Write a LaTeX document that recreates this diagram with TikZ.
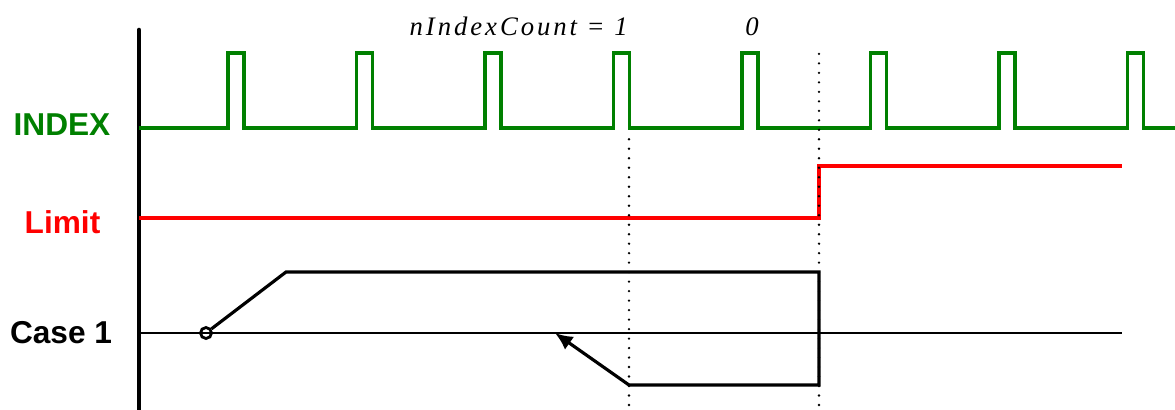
\documentclass[tikz,border=0pt]{standalone}
\usepackage{fontspec}
\setmainfont{Liberation Serif}
\setsansfont{Liberation Sans}
\usetikzlibrary{arrows.meta}

\begin{document}
\begin{tikzpicture}[lab/.style={font=\sffamily\bfseries\fontsize{9}{11}\selectfont, anchor=base, inner sep=0pt},
    marker/.style={dash pattern=on 0pt off 2.7pt, line width=0.75pt, line cap=round}]
    \useasboundingbox (0,0) rectangle (11.75,4.09);
    \draw[line width=1.3pt, line cap=round] (1.39,0) -- (1.39,3.79);
    % index pulses
    \draw[green!50!black, line width=0.9pt] (1.39,2.81)
        \foreach \x in {2.28,3.565,4.85,6.135,7.42,8.705,9.99,11.275} {-- (\x,2.81) -- (\x,3.56) -- (\x+0.16,3.56) -- (\x+0.16,2.81)} -- (11.75,2.81);
    % limit
    \draw[red, line width=0.9pt] (1.39,1.91) -- (8.19,1.91) -- (8.19,2.43) -- (11.22,2.43);
    % case 1
    \draw[line width=0.3pt] (1.39,0.76) -- (11.22,0.76);
    \node[circle, draw, line width=0.8pt, minimum size=0.11cm, inner sep=0pt] (start) at (2.06,0.76) {};
    \draw[line width=0.9pt, -{Latex[length=5pt,width=4.5pt]}] (start) -- (2.86,1.37) -- (8.19,1.37) -- (8.19,0.24) -- (6.29,0.24) -- (5.55,0.76);
    \draw[marker] (6.29,0.04) -- (6.29,2.72);
    \draw[marker] (8.19,0.04) -- (8.19,3.57);
    \node[lab, text=green!50!black] (index) at (0.62,2.74) {INDEX};
    \node[lab, text=red] (limit) at (0.625,1.76) {Limit};
    \node[lab] (case) at (0.61,0.66) {Case 1};
    \node[font=\itshape\fontsize{7.6}{9}\selectfont\addfontfeature{LetterSpace=11}, anchor=base west, inner sep=0pt] (count) at (4.09,3.74) {nIndexCount = 1};
    \node[font=\itshape\fontsize{7.6}{9}\selectfont, anchor=base, inner sep=0pt] (zero) at (7.52,3.74) {0};
\end{tikzpicture}
\end{document}
